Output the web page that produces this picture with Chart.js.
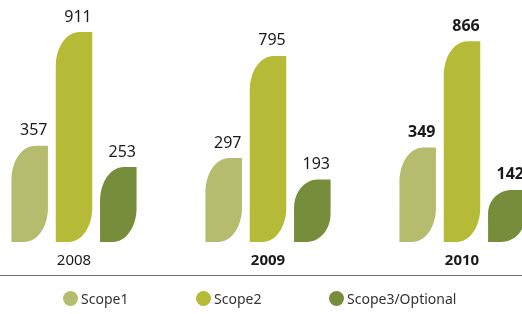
<!DOCTYPE html>
<html>
<head>
<meta charset="utf-8">
<script src="https://cdn.jsdelivr.net/npm/chart.js@4"></script>
<style>
  body { margin: 0; width: 522px; height: 314px; overflow: hidden; position: relative; background: #fff; font-family: "Noto Sans", sans-serif; }
  #wrap { position: absolute; left: -23px; top: 0; width: 582px; height: 314px; }
  #axisline { position: absolute; left: 0; top: 275px; width: 522px; height: 1px; background: #707070; }
  #legend { position: absolute; left: 63px; top: 289px; display: flex; font-size: 14px; color: #333; }
  #legend .item { display: flex; align-items: center; width: 133px; }
  #legend .dot { width: 15px; height: 15px; border-radius: 50%; margin-right: 3px; }
</style>
</head>
<body>
<div id="wrap"><canvas id="myChart"></canvas></div>
<div id="axisline"></div>
<div id="legend"></div>
<script>
var years = ['2008', '2009', '2010'];
var seriesNames = ['Scope1', 'Scope2', 'Scope3/Optional'];
var scope1 = [357, 297, 349];
var scope2 = [911, 795, 866];
var scope3 = [253, 193, 142];
var colors = ['#b5bc6e', '#b5bb36', '#768e3c'];
var boldYears = [false, true, true];
var boldValues = [false, false, true];
var BASE = -112;  // bars in the picture don't start from zero

// draw the bars as leaves: round top-left and bottom-right corners
var leafBars = {
  id: 'leafBars',
  beforeDatasetDraw: function (chart, args) {
    var ctx = chart.ctx;
    var k = 0.4477;
    ctx.save();
    args.meta.data.forEach(function (bar) {
      var p = bar.getProps(['x', 'y', 'base', 'width'], true);
      var l = p.x - p.width / 2, r = p.x + p.width / 2, t = p.y, b = p.base;
      var h = b - t;
      var rx = p.width * 0.65, ry = Math.min(34, h * 0.45);
      ctx.beginPath();
      ctx.moveTo(l, b);
      ctx.lineTo(l, t + ry);
      ctx.bezierCurveTo(l, t + ry * k, l + rx * k, t, l + rx, t);
      ctx.lineTo(r, t);
      ctx.lineTo(r, b - ry);
      ctx.bezierCurveTo(r, b - ry * k, r - rx * k, b, r - rx, b);
      ctx.closePath();
      ctx.fillStyle = bar.options.backgroundColor;
      ctx.fill();
    });
    ctx.restore();
    return false;
  }
};

var valueLabels = {
  id: 'valueLabels',
  afterDatasetsDraw: function (chart) {
    var ctx = chart.ctx;
    ctx.save();
    ctx.fillStyle = '#1a1a1a';
    ctx.textAlign = 'center';
    ctx.textBaseline = 'bottom';
    chart.data.datasets.forEach(function (ds, i) {
      chart.getDatasetMeta(i).data.forEach(function (bar, j) {
        ctx.font = (boldValues[j] ? 'bold ' : '') + '16px "Noto Sans"';
        ctx.fillText(ds.data[j], bar.x + 4, bar.y - 7);
      });
    });
    ctx.restore();
  }
};

var config = {
  type: 'bar',
  data: {
    labels: years,
    datasets: [
      { label: seriesNames[0], data: scope1, backgroundColor: colors[0], base: BASE },
      { label: seriesNames[1], data: scope2, backgroundColor: colors[1], base: BASE },
      { label: seriesNames[2], data: scope3, backgroundColor: colors[2], base: BASE }
    ]
  },
  options: {
    responsive: true, maintainAspectRatio: false,
    animation: false,
    layout: { padding: { top: 20, bottom: 34, left: 0, right: 0 } },
    datasets: { bar: { categoryPercentage: 0.685, barPercentage: 0.824 } },
    plugins: { legend: { display: false }, tooltip: { enabled: false } },
    scales: {
      x: {
        grid: { display: false, drawTicks: false },
        border: { display: false },
        ticks: {
          padding: 10,
          color: '#1a1a1a',
          font: function (c) {
            return { family: '"Noto Sans"', size: 15, weight: boldYears[c.index] ? 'bold' : 'normal' };
          }
        }
      },
      y: { display: false, min: BASE, max: 970 }
    }
  },
  plugins: [leafBars, valueLabels]
};

var myChart = new Chart(document.getElementById('myChart'), config);

var legend = document.getElementById('legend');
seriesNames.forEach(function (name, i) {
  var item = document.createElement('div');
  item.className = 'item';
  item.innerHTML = '<span class="dot" style="background:' + colors[i] + '"></span>' + name;
  legend.appendChild(item);
});
</script>
</body>
</html>
